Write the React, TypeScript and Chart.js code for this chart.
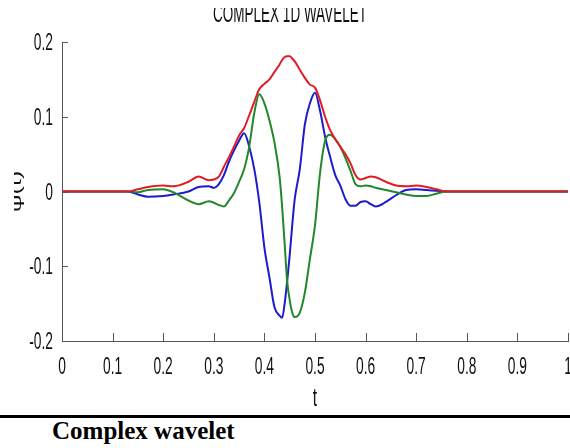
import React, { useEffect, useRef } from "react";
import { Chart, registerables } from "chart.js";

Chart.register(...registerables);

const chartTitle = "COMPLEX 1D WAVELET";
const xLabel = "t";
const yLabel = "ψ(t)";
const caption = "Complex wavelet";

const tVals = [
  0, 0.05, 0.1, 0.13, 0.15, 0.17, 0.2, 0.22, 0.25, 0.27, 0.29, 0.3, 0.31, 0.32, 0.33, 0.34, 0.35,
  0.36, 0.37, 0.38, 0.39, 0.4, 0.41, 0.42, 0.43, 0.435, 0.44, 0.445, 0.45, 0.455, 0.46, 0.47, 0.48,
  0.49, 0.5, 0.51, 0.52, 0.53, 0.54, 0.55, 0.56, 0.57, 0.58, 0.59, 0.6, 0.61, 0.62, 0.64, 0.66,
  0.68, 0.7, 0.72, 0.74, 0.76, 0.8, 0.9, 1.0,
];

// blue
const realPart = [
  0, 0, 0, 0, -0.004, -0.007, -0.006, -0.004, 0.0, 0.006, 0.007, 0.005, 0.01, 0.022, 0.04, 0.055, 0.068,
  0.078, 0.06, 0.03, -0.015, -0.075, -0.115, -0.155, -0.166, -0.169, -0.15, -0.12, -0.085, -0.045, -0.01, 0.03, 0.09,
  0.118, 0.132, 0.108, 0.073, 0.046, 0.022, 0.008, -0.01, -0.019, -0.019, -0.014, -0.013, -0.017, -0.02, -0.014, -0.005,
  0.002, 0.003, 0.002, 0.001, 0, 0, 0, 0,
];

// green
const imagPart = [
  0, 0, 0, 0, -0.001, 0.002, 0.003, -0.001, -0.012, -0.017, -0.013, -0.015, -0.018, -0.02, -0.012, -0.002, 0.013,
  0.03, 0.06, 0.105, 0.13, 0.118, 0.095, 0.065, 0.02, -0.02, -0.07, -0.12, -0.145, -0.162, -0.168, -0.162, -0.135,
  -0.09, -0.045, 0.025, 0.068, 0.076, 0.07, 0.06, 0.045, 0.028, 0.01, 0.007, 0.008, 0.007, 0.005, 0.002, -0.001,
  -0.004, -0.006, -0.006, -0.003, 0, 0, 0, 0,
];

// red
const magnitude = [
  0, 0, 0, 0, 0.003, 0.006, 0.008, 0.007, 0.013, 0.02, 0.015, 0.016, 0.02, 0.033, 0.046, 0.06, 0.075,
  0.085, 0.102, 0.12, 0.137, 0.144, 0.15, 0.16, 0.17, 0.176, 0.18, 0.181, 0.181, 0.178, 0.174, 0.163, 0.152,
  0.143, 0.139, 0.122, 0.1, 0.082, 0.07, 0.06, 0.05, 0.038, 0.022, 0.016, 0.018, 0.02, 0.019, 0.013, 0.008,
  0.007, 0.008, 0.006, 0.003, 0, 0, 0, 0,
];

const xTickValues = [0, 0.1, 0.2, 0.3, 0.4, 0.5, 0.6, 0.7, 0.8, 0.9, 1];
const xTickLabels = ["0", "0.1", "0.2", "0.3", "0.4", "0.5", "0.6", "0.7", "0.8", "0.9", "1"];
const yTickValues = [-0.2, -0.1, 0, 0.1, 0.2];
const yTickLabels = ["-0.2", "-0.1", "0", "0.1", "0.2"];

const SANS = '"Liberation Sans", Arial, sans-serif';

function drawText(
  ctx: CanvasRenderingContext2D,
  text: string,
  x: number,
  y: number,
  size: number,
  align: CanvasTextAlign,
  squish = 0.6,
  rotate = 0
) {
  ctx.save();
  ctx.translate(x, y);
  ctx.scale(squish, 1);
  if (rotate) ctx.rotate(rotate);
  ctx.font = `${size}px ${SANS}`;
  ctx.textAlign = align;
  ctx.textBaseline = "alphabetic";
  ctx.fillText(text, 0, 0);
  ctx.restore();
}

const matlabPlugin = {
  id: "matlabDecor",
  afterDraw(chart: any) {
    const { ctx, chartArea, scales } = chart;
    const xs = scales.x;
    const ys = scales.y;
    ctx.save();
    // inner ticks
    ctx.strokeStyle = "#555";
    ctx.lineWidth = 1;
    xTickValues.forEach((v) => {
      if (v === 0) return;
      const px = Math.round(xs.getPixelForValue(v)) + 0.5;
      ctx.beginPath();
      ctx.moveTo(px, chartArea.bottom);
      ctx.lineTo(px, chartArea.bottom - 8);
      ctx.stroke();
    });
    yTickValues.forEach((v) => {
      if (v === -0.2) return;
      const py = Math.round(ys.getPixelForValue(v)) + 0.5;
      ctx.beginPath();
      ctx.moveTo(chartArea.left, py);
      ctx.lineTo(chartArea.left + 6, py);
      ctx.stroke();
    });
    // tick labels
    ctx.fillStyle = "#111";
    xTickValues.forEach((v, i) => {
      drawText(ctx, xTickLabels[i], xs.getPixelForValue(v), chartArea.bottom + 33, 23, "center");
    });
    yTickValues.forEach((v, i) => {
      drawText(ctx, yTickLabels[i], chartArea.left - 9, ys.getPixelForValue(v) + 8, 23, "right");
    });
    // x label
    drawText(ctx, xLabel, xs.getPixelForValue(0.5), chartArea.bottom + 65, 26, "center");
    // title (top clipped)
    ctx.save();
    ctx.beginPath();
    ctx.rect(0, 8, chart.width, 40);
    ctx.clip();
    drawText(ctx, chartTitle, 290, 22, 25, "center", 0.54);
    ctx.restore();
    // y label (left clipped)
    ctx.save();
    ctx.beginPath();
    ctx.rect(14, 100, 40, 200);
    ctx.clip();
    drawText(ctx, yLabel, 21, ys.getPixelForValue(0), 25, "center", 0.6, -Math.PI / 2);
    ctx.restore();
    ctx.restore();
  },
};

export default function App() {
  const canvasRef = useRef<HTMLCanvasElement>(null);

  useEffect(() => {
    if (!canvasRef.current) return;
    const mk = (arr: number[]) => tVals.map((t, i) => ({ x: t, y: arr[i] }));
    const chart = new Chart(canvasRef.current, {
      type: "line",
      data: {
        datasets: [
          {
            label: "|ψ(t)|",
            data: mk(magnitude),
            borderColor: "rgb(222,28,38)",
            borderWidth: 2,
            pointRadius: 0,
            cubicInterpolationMode: "monotone",
          },
          {
            label: "Im ψ(t)",
            data: mk(imagPart),
            borderColor: "rgb(34,136,42)",
            borderWidth: 2,
            pointRadius: 0,
            cubicInterpolationMode: "monotone",
          },
          {
            label: "Re ψ(t)",
            data: mk(realPart),
            borderColor: "rgb(28,28,206)",
            borderWidth: 2,
            pointRadius: 0,
            cubicInterpolationMode: "monotone",
          },
        ],
      },
      options: {
        animation: false,
        responsive: false,
        layout: { padding: { left: 0, right: 2, top: 42, bottom: 0 } },
        plugins: { legend: { display: false }, tooltip: { enabled: false }, title: { display: false } },
        scales: {
          x: {
            type: "linear",
            min: 0,
            max: 1,
            ticks: { display: false, stepSize: 0.1 },
            grid: { display: false, drawTicks: false },
            border: { display: true, color: "#555", width: 1 },
            afterFit: (s: any) => {
              s.height = 69;
              s.paddingLeft = 0;
              s.paddingRight = 0;
            },
          },
          y: {
            min: -0.2,
            max: 0.2,
            ticks: { display: false, stepSize: 0.1 },
            grid: { display: false, drawTicks: false },
            border: { display: true, color: "#555", width: 1 },
            afterFit: (s: any) => {
              s.width = 62;
              s.paddingTop = 0;
              s.paddingBottom = 0;
            },
          },
        },
      },
      plugins: [matlabPlugin],
    });
    return () => chart.destroy();
  }, []);

  return (
    <div
      style={{
        position: "absolute",
        left: 0,
        top: 0,
        width: 570,
        height: 448,
        background: "#fff",
        overflow: "hidden",
      }}
    >
      <canvas ref={canvasRef} width={570} height={410} style={{ position: "absolute", left: 0, top: 0 }} />
      <div style={{ position: "absolute", left: 0, top: 415, width: 570, height: 3, background: "#000" }} />
      <div
        style={{
          position: "absolute",
          left: 52,
          top: 418,
          font: 'bold 25px "Liberation Serif", "Times New Roman", serif',
          lineHeight: "25px",
          color: "#000",
          whiteSpace: "nowrap",
        }}
      >
        {caption}
      </div>
    </div>
  );
}
